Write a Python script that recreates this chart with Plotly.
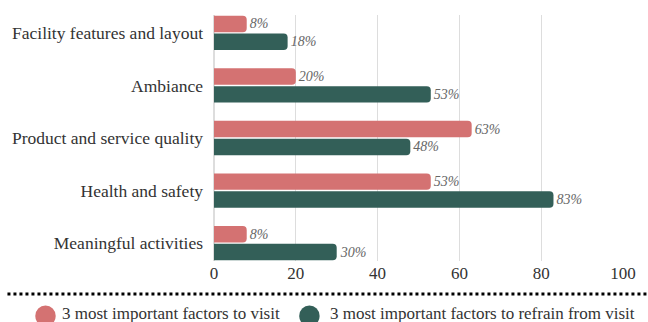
import plotly.graph_objects as go

categories = ["Facility features and layout", "Ambiance", "Product and service quality",
              "Health and safety", "Meaningful activities"]
visit = [8, 20, 63, 53, 8]
refrain = [18, 53, 48, 83, 30]
series_names = ["3 most important factors to visit", "3 most important factors to refrain from visit"]
colors = ["#d47272", "#335f58"]
x_ticks = [0, 20, 40, 60, 80, 100]

FONT = "Liberation Serif"

fig = go.Figure()
for name, vals, col in zip(series_names, [visit, refrain], colors):
    fig.add_trace(go.Bar(
        y=categories, x=vals, name=name, orientation="h",
        marker=dict(color=col, line=dict(width=0)),
        text=[f"<i>{v}%</i>" for v in vals], textposition="outside",
        textfont=dict(family=FONT, size=14, color="#666666"),
        cliponaxis=False, showlegend=False,
    ))

# manual legend (circles + text) below the dotted rule
legend_pos = [(-0.437, -0.387, -0.3762), (0.2083, 0.2583, 0.2786)]
shapes = [dict(type="line", xref="paper", yref="paper", x0=-0.505, x1=1.06,
               y0=-0.134, y1=-0.134, line=dict(color="black", width=3, dash="dot"))]
annotations = []
for (cx0, cx1, tx), name, col in zip(legend_pos, series_names, colors):
    shapes.append(dict(type="circle", xref="paper", yref="paper", x0=cx0, x1=cx1,
                       y0=-0.2663, y1=-0.1809, fillcolor=col, line=dict(width=0)))
    annotations.append(dict(xref="paper", yref="paper", x=tx, y=-0.2154, xanchor="left",
                            yanchor="middle", text=name, showarrow=False,
                            font=dict(family=FONT, size=17, color="#333333")))

fig.update_layout(
    width=648, height=322,
    margin=dict(l=214, r=14, t=15, b=61),
    paper_bgcolor="white", plot_bgcolor="white",
    barmode="group", bargap=0.32, bargroupgap=0.08,
    barcornerradius=4,
    font=dict(family=FONT, size=17, color="#333333"),
    showlegend=False,
    xaxis=dict(range=[0, 100], tickvals=x_ticks, showgrid=True, gridcolor="#dddddd",
               gridwidth=1, zeroline=True, zerolinecolor="#dddddd", showline=False,
               tickfont=dict(family=FONT, size=17, color="#333333"), ticks=""),
    yaxis=dict(categoryorder="array", categoryarray=categories, range=[4.34, -0.34],
               showgrid=False, ticks="", ticklabelstandoff=10,
               tickfont=dict(family=FONT, size=17.5, color="#333333")),
    shapes=shapes,
    annotations=annotations,
)

fig.write_html("out.html")
